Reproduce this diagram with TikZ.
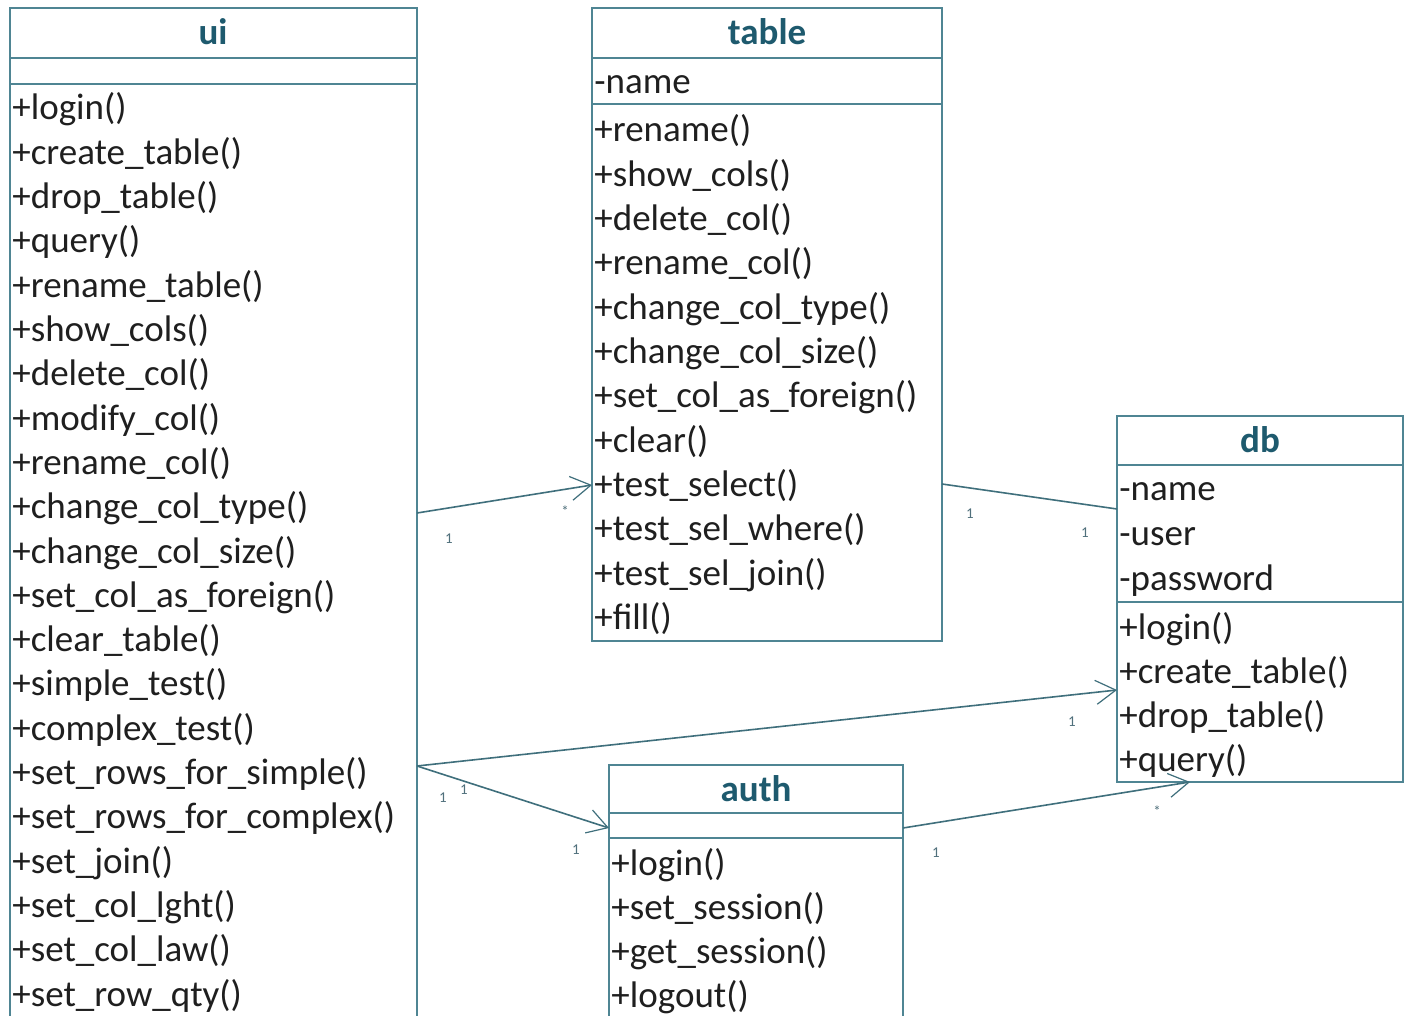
\documentclass[tikz,border=0pt]{standalone}
\usepackage{fontspec}
\setmainfont{Carlito}
\usetikzlibrary{arrows.meta}
\definecolor{boxline}{HTML}{4F8593}
\definecolor{titlec}{HTML}{1E5A6E}
\definecolor{linkc}{HTML}{3F6F7C}
\definecolor{lblc}{HTML}{50707C}
\begin{document}
\begin{tikzpicture}[x=0.5pt,y=-0.5pt,
  classbox/.style={draw=boxline, line width=0.75pt, anchor=north west, inner sep=0pt, outer sep=0pt},
  classtitle/.style={font=\fontsize{18.5}{22}\selectfont\bfseries, text=titlec, anchor=base, inner sep=0pt},
  member/.style={font=\fontsize{18.5}{22}\selectfont, text=black!88, anchor=base west, inner sep=0pt},
  sepline/.style={draw=boxline, line width=0.75pt},
  link/.style={draw=linkc, line width=0.8pt},
  arr/.style={-{Straight Barb[length=10pt,width=12pt,line width=0.6pt]}},
  mult/.style={font=\fontsize{7.5}{8}\selectfont, text=lblc, inner sep=0pt}
]
\useasboundingbox[fill=white] (0,0) rectangle (1404,1016);

% ---- class boxes ----
\node[classbox, minimum width=203.5pt, minimum height=511pt] (ui) at (10,8) {};
\node[classbox, minimum width=175pt, minimum height=316.5pt] (table) at (592,8) {};
\node[classbox, minimum width=143pt, minimum height=183pt] (db) at (1117,416) {};
\node[classbox, minimum width=147pt, minimum height=132.5pt] (auth) at (609,765) {};

% separators
\draw[sepline] (ui.west |- 0,58) -- (ui.east |- 0,58);
\draw[sepline] (ui.west |- 0,84) -- (ui.east |- 0,84);
\draw[sepline] (table.west |- 0,58) -- (table.east |- 0,58);
\draw[sepline] (table.west |- 0,104) -- (table.east |- 0,104);
\draw[sepline] (db.west |- 0,465) -- (db.east |- 0,465);
\draw[sepline] (db.west |- 0,602) -- (db.east |- 0,602);
\draw[sepline] (auth.west |- 0,813) -- (auth.east |- 0,813);
\draw[sepline] (auth.west |- 0,838) -- (auth.east |- 0,838);

% titles
\node[classtitle] (uit) at (213,45) {ui};
\node[classtitle] (tablet) at (767,45) {table};
\node[classtitle] (dbt) at (1260,452) {db};
\node[classtitle] (autht) at (756,801) {auth};

% ui members
\foreach \t [count=\i from 0] in {+login(),+create\_table(),+drop\_table(),+query(),+rename\_table(),+show\_cols(),+delete\_col(),+modify\_col(),+rename\_col(),+change\_col\_type(),+change\_col\_size(),+set\_col\_as\_foreign(),+clear\_table(),+simple\_test(),+complex\_test(),+set\_rows\_for\_simple(),+set\_rows\_for\_complex(),+set\_join(),+set\_col\_lght(),+set\_col\_law(),+set\_row\_qty()}
  \node[member] (uim\i) at ({12},{120+\i*44.3}) {\t};

% table members
\node[member] (tablea0) at (594,94) {-name};
\foreach \t [count=\i from 0] in {+rename(),+show\_cols(),+delete\_col(),+rename\_col(),+change\_col\_type(),+change\_col\_size(),+set\_col\_as\_foreign(),+clear(),+test\_select(),+test\_sel\_where(),+test\_sel\_join(),+fill()}
  \node[member] (tablem\i) at ({594},{142+\i*44.3}) {\t};

% db members
\foreach \t [count=\i from 0] in {-name,-user,-password}
  \node[member] (dba\i) at ({1119},{501+\i*44.5}) {\t};
\foreach \t [count=\i from 0] in {+login(),+create\_table(),+drop\_table(),+query()}
  \node[member] (dbm\i) at ({1119},{639+\i*44.3}) {\t};

% auth members
\foreach \t [count=\i from 0] in {+login(),+set\_session(),+get\_session(),+logout()}
  \node[member] (authm\i) at ({611},{875+\i*44.3}) {\t};

% ---- connectors ----
\draw[link,arr] (ui.east |- 0,513) -- (table.west |- 0,485);
\draw[link] (table.east |- 0,484) -- (db.west |- 0,509);
\draw[link,arr] (ui.east |- 0,766) -- (db.west |- 0,690);
\draw[link,arr] (ui.east |- 0,766) -- (auth.west |- 0,828);
\draw[link,arr] (auth.east |- 0,828) -- (db.south -| 1190,0);

% multiplicities
\node[mult] (m1) at (449,539) {1};
\node[mult] (m2) at (565,511) {*};
\node[mult] (m3) at (970,514) {1};
\node[mult] (m4) at (1085,533) {1};
\node[mult] (m5) at (1072,722) {1};
\node[mult] (m6) at (443,798) {1};
\node[mult] (m7) at (464,790) {1};
\node[mult] (m8) at (576,850) {1};
\node[mult] (m9) at (936,853) {1};
\node[mult] (m10) at (1157,811) {*};
\end{tikzpicture}
\end{document}
